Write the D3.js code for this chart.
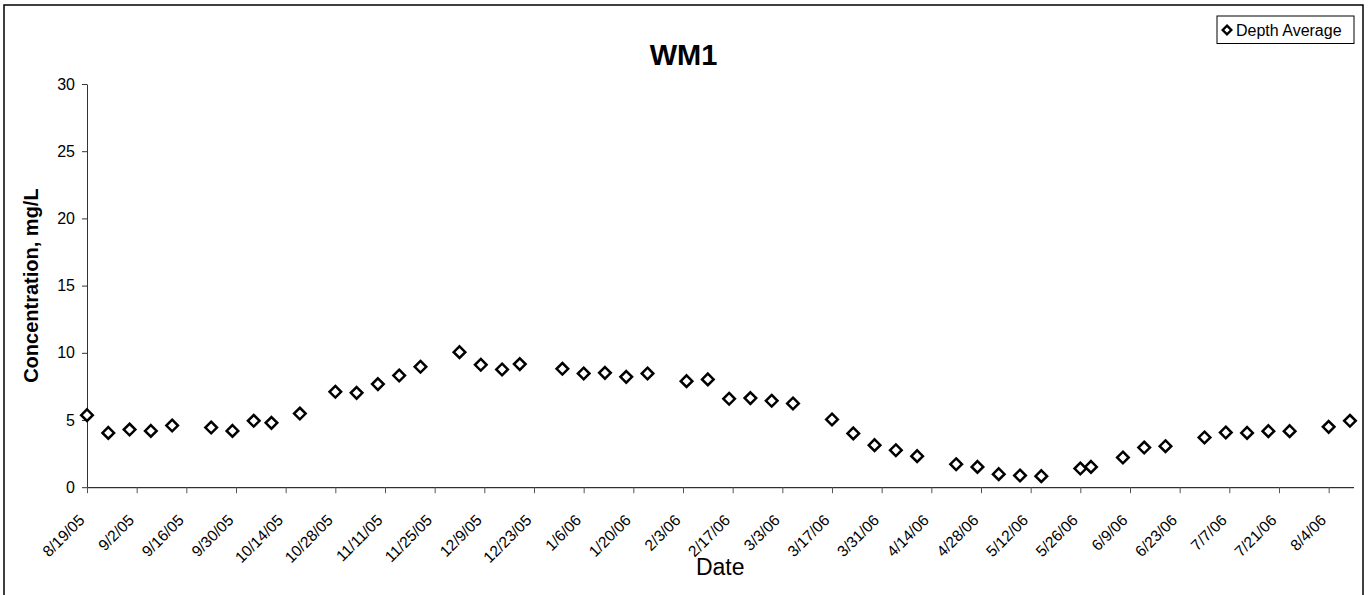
<!DOCTYPE html>
<html>
<head>
<meta charset="utf-8">
<script src="https://cdn.jsdelivr.net/npm/d3@7"></script>
<style>
  html, body { margin: 0; padding: 0; background: #fff; }
  svg { display: block; font-family: "Liberation Sans", Arial, sans-serif; }
</style>
</head>
<body>
<svg id="chart" width="1369" height="595"></svg>
<script>
// ---- Data ----
const title = "WM1";
const seriesName = "Depth Average";
const xLabel = "Date";
const yLabel = "Concentration, mg/L";

const sampleDates = [
  "8/19/05","8/25/05","8/31/05","9/6/05","9/12/05","9/23/05","9/29/05","10/5/05","10/10/05","10/18/05",
  "10/28/05","11/3/05","11/9/05","11/15/05","11/21/05","12/2/05","12/8/05","12/14/05","12/19/05","12/31/05",
  "1/6/06","1/12/06","1/18/06","1/24/06","2/4/06","2/10/06","2/16/06","2/22/06","2/28/06","3/6/06",
  "3/17/06","3/23/06","3/29/06","4/4/06","4/10/06","4/21/06","4/27/06","5/3/06","5/9/06","5/15/06",
  "5/26/06","5/29/06","6/7/06","6/13/06","6/19/06","6/30/06","7/6/06","7/12/06","7/18/06","7/24/06",
  "8/4/06","8/10/06"
];
const depthAverage = [
  5.36,4.04,4.29,4.19,4.59,4.44,4.19,4.94,4.79,5.48,
  7.10,7.02,7.67,8.31,8.96,10.05,9.11,8.76,9.16,8.81,
  8.46,8.51,8.21,8.46,7.89,8.02,6.58,6.63,6.43,6.23,
  5.04,4.00,3.13,2.75,2.31,1.71,1.51,0.97,0.87,0.82,
  1.39,1.51,2.21,2.95,3.05,3.70,4.07,4.04,4.17,4.17,
  4.49,4.94
];
const xTickLabels = [
  "8/19/05","9/2/05","9/16/05","9/30/05","10/14/05","10/28/05","11/11/05","11/25/05","12/9/05","12/23/05",
  "1/6/06","1/20/06","2/3/06","2/17/06","3/3/06","3/17/06","3/31/06","4/14/06","4/28/06","5/12/06",
  "5/26/06","6/9/06","6/23/06","7/7/06","7/21/06","8/4/06"
];
const xDomain = ["8/19/05", "8/11/06"];
const yTicks = [0, 5, 10, 15, 20, 25, 30];
const yDomain = [0, 30];

// ---- Setup ----
const parse = d3.timeParse("%m/%d/%y");
const fmt = d3.timeFormat("%-m/%-d/%y");
const svg = d3.select("#chart");

const plot = { left: 87, right: 1353.5, top: 84, bottom: 487.2 };

const x = d3.scaleTime().domain(xDomain.map(parse)).range([plot.left, plot.right]);
const y = d3.scaleLinear().domain(yDomain).range([plot.bottom, plot.top]);

// outer chart border
svg.append("rect")
  .attr("x", 4).attr("y", 5).attr("width", 1359).attr("height", 620)
  .attr("fill", "none").attr("stroke", "#000").attr("stroke-width", 1.5);

// title
svg.append("text")
  .attr("x", 683.5).attr("y", 65)
  .attr("text-anchor", "middle")
  .attr("font-size", 29).attr("font-weight", "bold")
  .text(title);

// y axis
const yAxis = d3.axisLeft(y).tickValues(yTicks).tickSize(5).tickPadding(7).tickSizeOuter(0);
const gy = svg.append("g").attr("transform", `translate(${plot.left},0)`).call(yAxis);
gy.select(".domain").attr("stroke", "#333");
gy.selectAll(".tick line").attr("stroke", "#333");
gy.selectAll(".tick text").attr("font-size", 16).attr("fill", "#000")
  .attr("font-family", "Liberation Sans, Arial, sans-serif");

// x axis
const xAxis = d3.axisBottom(x).tickValues(xTickLabels.map(parse)).tickFormat(fmt)
  .tickSize(6).tickSizeOuter(0);
const gx = svg.append("g").attr("transform", `translate(0,${plot.bottom})`).call(xAxis);
gx.select(".domain").attr("stroke", "#000");
gx.selectAll(".tick line").attr("stroke", "#555");
gx.selectAll(".tick text")
  .attr("font-size", 15.5).attr("fill", "#000")
  .attr("font-family", "Liberation Sans, Arial, sans-serif")
  .attr("text-anchor", "end")
  .attr("x", 0).attr("y", 0).attr("dy", 0)
  .attr("transform", "translate(-2,34) rotate(-45)");

// axis titles
svg.append("text")
  .attr("transform", `translate(38,${(plot.top + plot.bottom) / 2}) rotate(-90)`)
  .attr("text-anchor", "middle")
  .attr("font-size", 20).attr("font-weight", "bold")
  .text(yLabel);

svg.append("text")
  .attr("x", (plot.left + plot.right) / 2).attr("y", 575)
  .attr("text-anchor", "middle")
  .attr("font-size", 23)
  .text(xLabel);

// markers
const diamond = "M0,-5.8L5.8,0L0,5.8L-5.8,0Z";
svg.append("g").selectAll("path")
  .data(sampleDates.map((d, i) => ({ date: parse(d), value: depthAverage[i] })))
  .join("path")
  .attr("d", diamond)
  .attr("transform", d => `translate(${x(d.date)},${y(d.value)})`)
  .attr("fill", "#fff").attr("stroke", "#000").attr("stroke-width", 2.5);

// legend
const lg = svg.append("g");
lg.append("rect").attr("x", 1217).attr("y", 16).attr("width", 137).attr("height", 27.5)
  .attr("fill", "#fff").attr("stroke", "#000").attr("stroke-width", 1);
lg.append("path").attr("d", "M0,-4.3L4.3,0L0,4.3L-4.3,0Z")
  .attr("transform", "translate(1227,30)")
  .attr("fill", "#fff").attr("stroke", "#000").attr("stroke-width", 2.4);
lg.append("text").attr("x", 1236).attr("y", 35.5).attr("font-size", 16).text(seriesName);
</script>
</body>
</html>
